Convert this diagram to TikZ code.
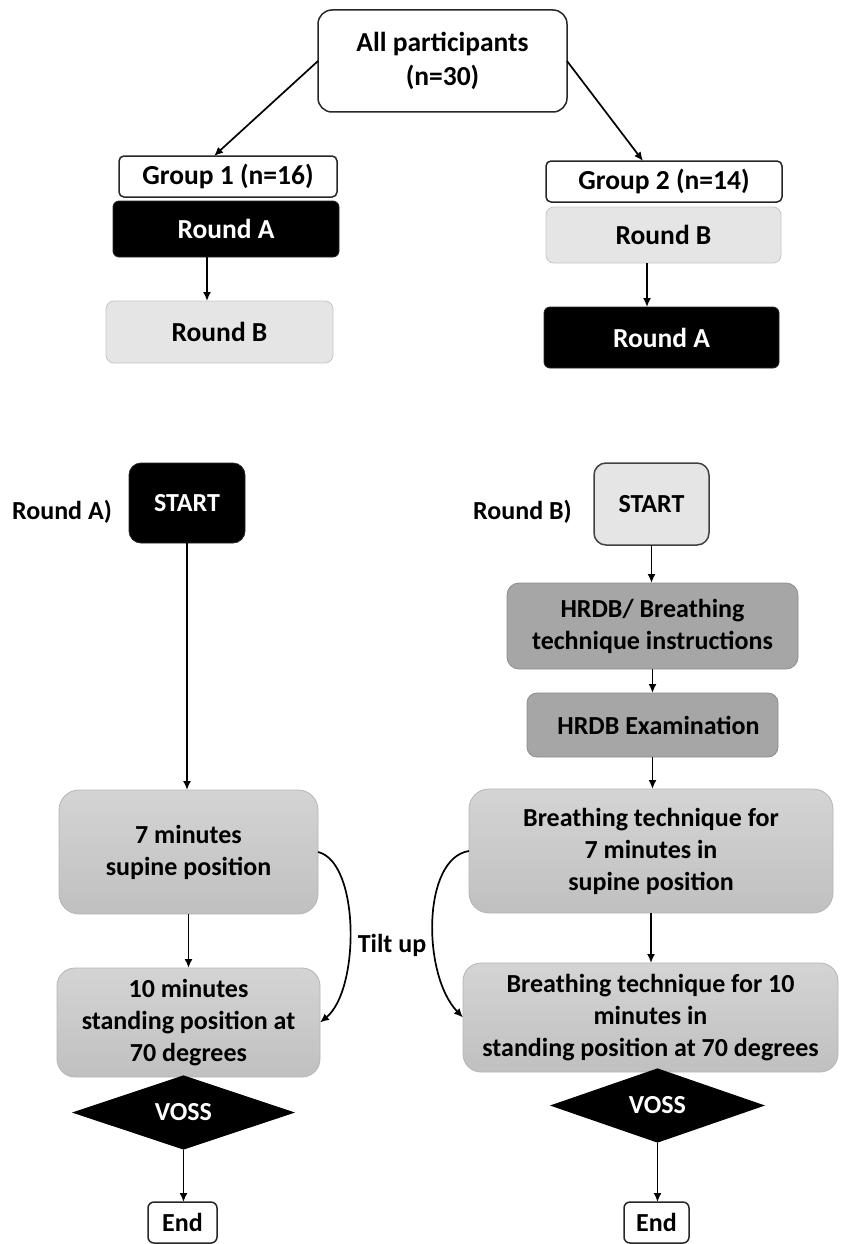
\documentclass[tikz,border=0pt]{standalone}
\usepackage{fontspec}
\setmainfont{Carlito}
\usetikzlibrary{shapes.geometric,arrows.meta}
\definecolor{lightbox}{HTML}{E5E5E5}
\definecolor{lightborder}{HTML}{C6C6C6}
\definecolor{midbox}{HTML}{A6A6A6}
\definecolor{midborder}{HTML}{8C8C8C}
\definecolor{graytop}{HTML}{D4D4D4}
\definecolor{graybot}{HTML}{C0C0C0}
\definecolor{grayborder}{HTML}{B5B5B5}
\begin{document}
\begin{tikzpicture}[x=1pt,y=-1pt,
  every node/.style={font=\fontsize{26}{32}\selectfont\bfseries, inner sep=0pt, outer sep=0pt, align=center},
  topfont/.style={font=\fontsize{27.5}{34}\selectfont\bfseries},
  whitebox/.style={rectangle, rounded corners=#1, draw=black!85, line width=1.5pt, fill=white},
  blackbox/.style={rectangle, rounded corners=#1, draw=black!85, line width=0.8pt, fill=black, text=white},
  lightbx/.style={rectangle, rounded corners=#1, draw=lightborder, line width=0.8pt, fill=lightbox},
  midbx/.style={rectangle, rounded corners=#1, draw=midborder, line width=0.8pt, fill=midbox},
  gradbx/.style={rectangle, rounded corners=#1, draw=grayborder, line width=0.8pt, top color=graytop, bottom color=graybot},
  decision/.style={diamond, fill=black, text=white},
  arr/.style={-{Latex[length=9pt,width=8pt]}, line width=1.7pt},
  lbl/.style={}
]
\useasboundingbox (0,0) rectangle (843,1244);

% ---------- top part ----------
\node[whitebox=14, topfont, minimum width=249pt, minimum height=102pt] (all) at (442.5,61) {All participants\\(n=30)};

\node[whitebox=5, topfont, minimum width=218pt, minimum height=41pt] (g1) at (228,176.5) {Group 1 (n=16)};
\node[blackbox=6, topfont, minimum width=226pt, minimum height=56pt] (r1a) at (226,229) {Round A};
\node[lightbx=8, topfont, minimum width=227pt, minimum height=62pt] (r1b) at (219.5,332) {Round B};

\node[whitebox=5, topfont, minimum width=236pt, minimum height=41pt] (g2) at (664,181.5) {Group 2 (n=14)};
\node[lightbx=8, topfont, minimum width=235pt, minimum height=56pt] (r2b) at (663.5,235) {Round B};
\node[blackbox=6, topfont, minimum width=235pt, minimum height=61pt] (r2a) at (661.5,337.5) {Round A};

\draw[arr] (all.west) -- ([xshift=-14pt]g1.north);
\draw[arr] (all.east) -- ([xshift=-21pt]g2.north);
\draw[arr] ([xshift=-19pt]r1a.south) -- ([xshift=-19pt]r1a.south |- r1b.north);
\draw[arr] ([xshift=-16.5pt]r2b.south) -- ([xshift=-16.5pt]r2b.south |- r2a.north);

% ---------- Round A ----------
\node[lbl] (labA) at (62,512) {Round A)};
\node[blackbox=12, minimum width=116pt, minimum height=80pt] (startA) at (187,503) {START};
\node[gradbx=20, minimum width=259pt, minimum height=124pt] (minA7) at (188.5,852) {7 minutes\\supine position};
\node[gradbx=18, minimum width=263pt, minimum height=109pt] (minA10) at (188.5,1022.5) {10 minutes\\standing position at\\70 degrees};
\node[decision, minimum width=223pt, minimum height=67pt] (vossA) at (183.5,1112.5) {VOSS};
\node[whitebox=6, minimum width=69pt, minimum height=41pt] (endA) at (182.5,1222.5) {End};

\draw[arr] (startA.south) -- (startA.south |- minA7.north);
\draw[arr] (minA7.south) -- (minA7.south |- minA10.north);
\draw[arr] (vossA.south) -- (vossA.south |- endA.north);
\draw[arr] (minA7.east) .. controls (360,862) and (360,990) .. (minA10.east);

\node[lbl] (tilt) at (392,945) {Tilt up};

% ---------- Round B ----------
\node[lbl] (labB) at (522.5,512) {Round B)};
\node[rectangle, rounded corners=12, draw=black!75, line width=1.5pt, fill=lightbox, minimum width=115pt, minimum height=82pt] (startB) at (651.5,504) {START};
\node[midbx=12, minimum width=291pt, minimum height=86pt] (hrdb1) at (652.5,626) {HRDB/ Breathing\\technique instructions};
\node[midbx=10, minimum width=251pt, minimum height=64pt] (hrdb2) at (652.5,725) {\hspace*{12pt}HRDB Examination};
\node[gradbx=20, minimum width=364pt, minimum height=124pt] (b7) at (651,851) {Breathing technique for\\7 minutes in\\supine position};
\node[gradbx=18, minimum width=375pt, minimum height=109pt] (b10) at (650.5,1017.5) {Breathing technique for 10\\minutes in\\standing position at 70 degrees};
\node[decision, minimum width=215pt, minimum height=65pt] (vossB) at (657.5,1105.5) {VOSS};
\node[whitebox=6, minimum width=65pt, minimum height=41pt] (endB) at (656.5,1222.5) {End};

\draw[arr] (startB.south) -- (startB.south |- hrdb1.north);
\draw[arr] (hrdb1.south) -- (hrdb1.south |- hrdb2.north);
\draw[arr] (hrdb2.south) -- (hrdb2.south |- b7.north);
\draw[arr] (b7.south) -- (b7.south |- b10.north);
\draw[arr] (vossB.south) -- (vossB.south |- endB.north);
\draw[arr] (b7.west) .. controls (422,858) and (422,975) .. (b10.west);
\end{tikzpicture}
\end{document}
